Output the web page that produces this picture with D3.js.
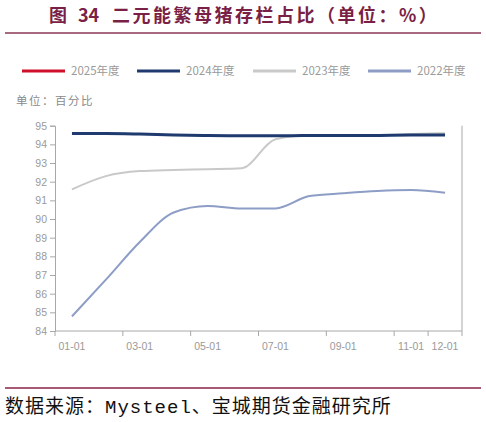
<!DOCTYPE html>
<html>
<head>
<meta charset="utf-8">
<script src="https://cdn.jsdelivr.net/npm/d3@7"></script>
<style>
  body { margin: 0; background: #fff; }
  svg { display: block; }
  .tick text { fill: #9a9a9a; font-family: "Liberation Sans", Arial, sans-serif; font-size: 10.5px; }
  .tick line, .domain { stroke: #a8a8a8; }
</style>
</head>
<body>
<div id="chart"></div>
<script>
const months = ['01-01','02-01','03-01','04-01','05-01','06-01','07-01','08-01','09-01','10-01','11-01','12-01'];
const tickMonths = ['01-01','03-01','05-01','07-01','09-01','11-01','12-01'];
const yTicks = [84,85,86,87,88,89,90,91,92,93,94,95];

const series2025 = [];
const series2024 = [94.58,94.58,94.55,94.5,94.47,94.46,94.46,94.47,94.47,94.48,94.5,94.5];
const series2023 = [91.59,92.3,92.57,92.63,92.67,92.72,94.27,94.49,94.5,94.48,94.55,94.6];
const series2022 = [84.78,86.75,88.77,90.35,90.7,90.56,90.57,91.23,91.38,91.5,91.55,91.41];

const seriesNames = ['2025年度','2024年度','2023年度','2022年度'];
const seriesColors = ['#d0102a','#1f3a6e','#c9c9c9','#8d9dc6'];

const W = 486, H = 422;
const svg = d3.select('#chart').append('svg')
    .attr('width', W)
    .attr('height', H);

// Title, split in three pieces so the wide gaps around the number match
const title = svg.append('text')
    .attr('y', 22)
    .attr('fill', '#7a1f45')
    .attr('font-family', '"Noto Sans CJK SC", sans-serif')
    .attr('font-weight', 'bold')
    .attr('font-size', '18px');
title.append('tspan').attr('x', 49).text('图');
title.append('tspan').attr('x', 78).text('34');
title.append('tspan').attr('x', 112).style('letter-spacing', '2.5px')
    .text('二元能繁母猪存栏占比（单位：%）');

svg.append('line')
    .attr('x1', 5).attr('x2', 481)
    .attr('y1', 33).attr('y2', 33)
    .attr('stroke', '#a8687f')
    .attr('stroke-width', 2);

// Legend
const legend = svg.append('g').attr('transform', 'translate(0,71)');
const legendX = [22, 137, 253, 368];
seriesNames.forEach((name, i) => {
    const lg = legend.append('g').attr('transform', `translate(${legendX[i]},0)`);
    lg.append('line')
        .attr('x1', 0).attr('x2', 43)
        .attr('stroke', seriesColors[i])
        .attr('stroke-width', 3);
    lg.append('text')
        .attr('x', 49)
        .attr('dy', '0.35em')
        .attr('fill', '#9a9a9a')
        .attr('font-family', '"Noto Sans CJK SC", sans-serif')
        .attr('font-size', '11.5px')
        .text(name);
});

svg.append('text')
    .attr('x', 16)
    .attr('y', 105)
    .attr('fill', '#8a8a8a')
    .attr('font-family', '"Noto Sans CJK SC", sans-serif')
    .attr('font-size', '11.5px')
    .style('letter-spacing', '1.5px')
    .text('单位：百分比');

// Plot
const plotLeft = 55, plotRight = 462, plotTop = 125.7, plotBottom = 331;

const x = d3.scaleBand().domain(months).range([plotLeft, plotRight]);
const y = d3.scaleLinear().domain([84, 95]).range([plotBottom, plotTop]);
const cx = m => x(m) + x.bandwidth() / 2;

svg.append('g')
    .attr('transform', `translate(${plotLeft},0)`)
    .call(d3.axisLeft(y).tickValues(yTicks).tickSize(5).tickPadding(3).tickFormat(d3.format('d')));

// Right border
svg.append('line')
    .attr('x1', plotRight).attr('x2', plotRight)
    .attr('y1', plotTop).attr('y2', plotBottom)
    .attr('stroke', '#a8a8a8');

// X axis: ticks on band edges, labels at band centres
const xAxis = svg.append('g').attr('class', 'x-axis');
xAxis.append('line')
    .attr('class', 'domain')
    .attr('x1', plotLeft).attr('x2', plotRight)
    .attr('y1', plotBottom).attr('y2', plotBottom);

const tickPos = tickMonths.map(m => x(m)).concat([plotRight]);
xAxis.selectAll('line.t')
    .data(tickPos)
    .enter().append('line')
    .attr('class', 't')
    .attr('x1', d => d).attr('x2', d => d)
    .attr('y1', plotBottom).attr('y2', plotBottom + 5)
    .attr('stroke', '#a8a8a8');

xAxis.selectAll('text')
    .data(tickMonths)
    .enter().append('text')
    .attr('x', d => cx(d))
    .attr('y', plotBottom + 19)
    .attr('text-anchor', 'middle')
    .attr('fill', '#9a9a9a')
    .attr('font-family', '"Liberation Sans", Arial, sans-serif')
    .attr('font-size', '10.5px')
    .text(d => d);

// Lines
const line = d3.line()
    .x((d, i) => cx(months[i]))
    .y(d => y(d))
    .curve(d3.curveMonotoneX);

const drawOrder = [
    { data: series2022, color: seriesColors[3], w: 2 },
    { data: series2023, color: seriesColors[2], w: 2 },
    { data: series2024, color: seriesColors[1], w: 3 },
    { data: series2025, color: seriesColors[0], w: 3 }
];

svg.append('g')
    .selectAll('path')
    .data(drawOrder.filter(s => s.data.length > 0))
    .enter().append('path')
    .attr('d', s => line(s.data))
    .attr('fill', 'none')
    .attr('stroke', s => s.color)
    .attr('stroke-width', s => s.w);

// Footer
svg.append('line')
    .attr('x1', 5).attr('x2', 481)
    .attr('y1', 388).attr('y2', 388)
    .attr('stroke', '#8b2346')
    .attr('stroke-width', 1.5);

svg.append('text')
    .attr('x', 5)
    .attr('y', 413)
    .attr('fill', '#111')
    .attr('font-family', '"Liberation Mono", "Noto Sans CJK SC", monospace')
    .attr('font-size', '19px')
    .style('letter-spacing', '1px')
    .text('数据来源：Mysteel、宝城期货金融研究所');
</script>
</body>
</html>
